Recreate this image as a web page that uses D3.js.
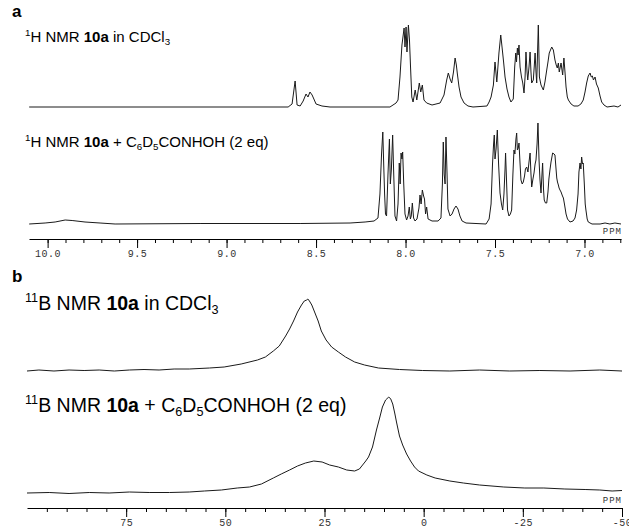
<!DOCTYPE html>
<html>
<head>
<meta charset="utf-8">
<script src="https://cdn.jsdelivr.net/npm/d3@7"></script>
<style>
  body { margin: 0; background: #fff; }
  svg { display: block; }
  .head { font-family: "Liberation Sans", Arial, sans-serif; fill: #000; }
  .tick text { font-family: "Liberation Mono", "DejaVu Sans Mono", monospace; font-size: 10px; fill: #333; letter-spacing: 0.5px; }
  .unit { font-family: "Liberation Mono", monospace; font-size: 9px; fill: #333; letter-spacing: 1px; }
</style>
</head>
<body>
<svg id="chart" width="629" height="528"></svg>
<script>
/* ---------- data: [ppm, relative intensity] ---------- */
const h1Free = [
  [10.103, 0], [8.656, 0], [8.634, 3], [8.617, 26], [8.606, 2], [8.589, 1], [8.572, 6],
  [8.556, 13], [8.545, 10], [8.534, 15], [8.522, 12], [8.500, 3], [8.467, 1], [8.422, 0],
  [8.087, 0], [8.053, 4], [8.042, 7], [8.031, 30], [8.020, 62], [8.008, 79], [8.003, 60],
  [7.997, 80], [7.992, 55], [7.984, 82], [7.978, 67], [7.972, 40], [7.965, 10], [7.958, 5],
  [7.946, 17], [7.937, 7], [7.923, 24], [7.915, 15], [7.906, 22], [7.897, 7], [7.882, 4],
  [7.852, 2], [7.807, 4], [7.785, 12], [7.770, 27], [7.761, 34], [7.751, 28], [7.742, 24],
  [7.732, 35], [7.723, 49], [7.716, 42], [7.711, 34], [7.701, 20], [7.690, 10], [7.673, 4],
  [7.651, 1], [7.623, 0], [7.545, 1], [7.533, 5], [7.522, 10], [7.509, 22], [7.504, 35],
  [7.500, 45], [7.490, 25], [7.478, 54], [7.468, 72], [7.459, 57], [7.452, 45], [7.444, 30],
  [7.433, 18], [7.422, 10], [7.411, 5], [7.398, 8], [7.390, 40], [7.384, 54], [7.380, 45],
  [7.375, 59], [7.371, 52], [7.366, 62], [7.360, 40], [7.352, 30], [7.345, 24], [7.338, 14],
  [7.332, 30], [7.327, 55], [7.321, 35], [7.317, 27], [7.310, 40], [7.304, 55], [7.299, 35],
  [7.295, 24], [7.286, 27], [7.281, 40], [7.276, 54], [7.271, 35], [7.267, 24], [7.263, 50],
  [7.258, 82], [7.252, 30], [7.243, 22], [7.230, 17], [7.221, 25], [7.211, 37], [7.204, 45],
  [7.197, 54], [7.183, 60], [7.174, 57], [7.165, 47], [7.158, 42], [7.152, 39], [7.146, 44],
  [7.141, 35], [7.131, 44], [7.122, 32], [7.115, 49], [7.109, 35], [7.103, 20], [7.096, 10],
  [7.090, 7], [7.075, 3], [7.059, 1], [7.036, 1], [7.020, 3], [7.007, 7], [6.997, 15],
  [6.988, 24], [6.979, 31], [6.969, 34], [6.962, 30], [6.956, 31], [6.950, 27], [6.941, 30],
  [6.933, 23], [6.923, 19], [6.913, 11], [6.904, 5], [6.891, 2], [6.874, 0], [6.835, 1],
  [6.813, 0], [6.796, 2]
];

const h1Complex = [
  [10.103, 0], [10.014, 1], [9.958, 2], [9.902, 4], [9.863, 3.5], [9.791, 2], [9.707, 1],
  [9.623, 0], [9.148, 0.5], [8.589, 0.5], [8.310, 1], [8.226, 2], [8.176, 3], [8.154, 6],
  [8.143, 30], [8.134, 70], [8.127, 92], [8.122, 60], [8.117, 30], [8.112, 10], [8.106, 8],
  [8.098, 50], [8.090, 85], [8.085, 40], [8.079, 55], [8.072, 89], [8.066, 50], [8.059, 8],
  [8.050, 3], [8.042, 20], [8.035, 61], [8.030, 40], [8.025, 71], [8.020, 65], [8.016, 72],
  [8.010, 40], [8.003, 10], [7.994, 4], [7.986, 8], [7.979, 17], [7.973, 5], [7.968, 8],
  [7.962, 21], [7.955, 6], [7.947, 3], [7.936, 5], [7.925, 16], [7.919, 29], [7.913, 20],
  [7.906, 34], [7.899, 28], [7.894, 25], [7.888, 10], [7.882, 17], [7.874, 5], [7.852, 3],
  [7.818, 3], [7.802, 6], [7.794, 40], [7.789, 82], [7.784, 50], [7.779, 40], [7.774, 87],
  [7.768, 50], [7.763, 15], [7.751, 8], [7.740, 10], [7.729, 15], [7.718, 18], [7.707, 15],
  [7.696, 8], [7.684, 3], [7.662, 1], [7.550, 0], [7.533, 5], [7.522, 20], [7.514, 60],
  [7.508, 80], [7.504, 89], [7.500, 65], [7.494, 75], [7.487, 94], [7.480, 60], [7.472, 31],
  [7.464, 20], [7.457, 14], [7.450, 30], [7.444, 55], [7.441, 71], [7.435, 40], [7.430, 14],
  [7.422, 8], [7.414, 10], [7.407, 14], [7.400, 50], [7.394, 74], [7.389, 70], [7.383, 85],
  [7.379, 91], [7.375, 74], [7.370, 76], [7.366, 81], [7.360, 60], [7.355, 44], [7.348, 40],
  [7.342, 42], [7.335, 48], [7.330, 55], [7.323, 57], [7.316, 52], [7.310, 62], [7.304, 71],
  [7.299, 50], [7.295, 37], [7.288, 45], [7.282, 51], [7.276, 60], [7.271, 64], [7.265, 80],
  [7.260, 101], [7.254, 64], [7.249, 45], [7.243, 31], [7.239, 45], [7.234, 61], [7.229, 35],
  [7.225, 24], [7.218, 21], [7.211, 21], [7.204, 32], [7.199, 45], [7.193, 54], [7.187, 62],
  [7.178, 71], [7.170, 70], [7.165, 69], [7.159, 55], [7.155, 46], [7.151, 42], [7.146, 39],
  [7.142, 36], [7.137, 34], [7.131, 32], [7.127, 30], [7.123, 28], [7.118, 26], [7.112, 20],
  [7.103, 10], [7.095, 5], [7.081, 2], [7.064, 3], [7.053, 6], [7.044, 14], [7.036, 30],
  [7.031, 52], [7.025, 61], [7.020, 55], [7.016, 67], [7.011, 60], [7.007, 61], [7.001, 40],
  [6.996, 20], [6.992, 14], [6.985, 5], [6.979, 2], [6.958, 0], [6.913, 0], [6.885, 1],
  [6.858, 0], [6.830, 1], [6.796, 0]
];

const b11Free = [
  [100, 0], [97, 1], [93.2, 0], [89.4, 1], [85.6, 0.5], [81.8, 1], [78, 0], [74.2, 1],
  [70.5, 1.5], [66.7, 1], [62.9, 2], [59.1, 2], [54, 3], [50.3, 4], [46, 7], [41.9, 11],
  [39.9, 14], [37.9, 20], [36.4, 25], [34.8, 35], [33.8, 42], [32.8, 50], [31.8, 59],
  [30.8, 66], [30.1, 70], [29.5, 71], [29.2, 72], [28.8, 70], [28.2, 66], [27.5, 59],
  [26.6, 50], [25.8, 40], [24.6, 31], [23.2, 24], [21.5, 19], [19.7, 14], [17.4, 9],
  [14.9, 6], [11.4, 3], [6.1, 1.5], [0.25, 0.5], [-6.6, 0], [-14.1, 1], [-21.7, 0],
  [-29.3, 0.5], [-36.9, 0], [-44.4, 1], [-50, 0]
];

const b11Complex = [
  [100, 0], [94.4, 0.5], [89.4, -0.5], [84.3, 0.5], [79.3, 0], [74.2, 1], [69.2, 0.5],
  [64.1, 0.5], [59.1, 1], [55.3, 2], [51, 3], [47, 5], [43.9, 6], [40.9, 9], [37.9, 15],
  [35.9, 19], [33.8, 23], [31.8, 27], [29.8, 30], [27.7, 32], [25.6, 31], [23.7, 28],
  [21.5, 26], [19.4, 23], [17.4, 22], [16.2, 24], [15.4, 28], [14.6, 32], [13.9, 36],
  [12.9, 46], [11.9, 63], [11.1, 75], [10.4, 86], [9.6, 93], [8.8, 96], [8.3, 94],
  [7.8, 89], [7.3, 80], [6.8, 70], [6.1, 57], [5.3, 48], [4.3, 39], [3.3, 32], [2.3, 26],
  [1.3, 22], [-0.8, 18], [-2.9, 15], [-6.6, 12], [-10, 10], [-14.1, 8], [-20.2, 6],
  [-25.5, 5], [-30.3, 5], [-35.6, 4], [-40.7, 3.5], [-44.4, 3], [-47.5, 2], [-50, 2.5]
];

/* axis ticks */
const hTicks = [10.0, 9.5, 9.0, 8.5, 8.0, 7.5, 7.0];
const hMinor = [10.0, 9.9, 9.8, 9.7, 9.6, 9.5, 9.4, 9.3, 9.2, 9.1, 9.0, 8.9, 8.8, 8.7, 8.6,
  8.5, 8.4, 8.3, 8.2, 8.1, 8.0, 7.9, 7.8, 7.7, 7.6, 7.5, 7.4, 7.3, 7.2, 7.1, 7.0, 6.9, 6.8];
const bTicks = [75, 50, 25, 0, -25, -50];
const bMinor = [95, 90, 85, 80, 75, 70, 65, 60, 55, 50, 45, 40, 35, 30, 25, 20, 15, 10, 5,
  0, -5, -10, -15, -20, -25, -30, -35, -40, -45, -50];

/* ---------- layout ---------- */
const svg = d3.select("#chart");

const xH = d3.scaleLinear().domain([10.104, 6.796]).range([29, 621]);
const xB = d3.scaleLinear().domain([100, -50]).range([27, 622]);

// baseline y for each trace, 1 intensity unit = 1px
const yFor = (base) => d3.scaleLinear().domain([0, 100]).range([base, base - 100]);

function trace(data, x, y) {
  const line = d3.line().x((d) => x(d[0])).y((d) => y(d[1]));
  svg.append("path")
    .datum(data)
    .attr("d", line)
    .attr("fill", "none")
    .attr("stroke", "#1a1a1a")
    .attr("stroke-width", 1)
    .attr("stroke-linejoin", "round");
}

trace(h1Free, xH, yFor(107));
trace(h1Complex, xH, yFor(224));
trace(b11Free, xB, yFor(371));
trace(b11Complex, xB, yFor(493));

function axis(x, ticks, minor, fmt, y) {
  svg.append("g")
    .attr("transform", `translate(0,${y})`)
    .call(d3.axisBottom(x).tickValues(minor).tickSize(4).tickSizeOuter(0).tickFormat(""))
    .call((g) => g.select(".domain").attr("stroke", "#000"));
  svg.append("g")
    .attr("transform", `translate(0,${y})`)
    .call(d3.axisBottom(x).tickValues(ticks).tickSize(9).tickSizeOuter(0).tickPadding(2).tickFormat(fmt))
    .call((g) => g.select(".domain").remove());
  svg.append("text")
    .attr("class", "unit")
    .attr("x", 622)
    .attr("y", y - 5)
    .attr("text-anchor", "end")
    .text("PPM");
}

axis(xH, hTicks, hMinor, d3.format(".1f"), 239);
axis(xB, bTicks, bMinor, (d) => String(d), 508);

/* ---------- headings ---------- */
function heading(x, y, size, iso, nucleus, solventParts) {
  const t = svg.append("text").attr("class", "head").attr("x", x).attr("y", y).style("font-size", size + "px");
  t.append("tspan").attr("font-size", size * 0.65).attr("baseline-shift", size * 0.4).text(iso);
  t.append("tspan").text(nucleus + " NMR ");
  t.append("tspan").attr("font-weight", "bold").text("10a");
  solventParts.forEach((p) => {
    const s = t.append("tspan").text(p[0]);
    if (p[1] === "sub") s.attr("font-size", size * 0.65).attr("baseline-shift", -size * 0.2);
  });
}

svg.append("text").attr("class", "head").attr("x", 12).attr("y", 17)
  .style("font-size", "17px").style("font-weight", "bold").text("a");
svg.append("text").attr("class", "head").attr("x", 12).attr("y", 282)
  .style("font-size", "17px").style("font-weight", "bold").text("b");

const inCDCl3 = [[" in CDCl"], ["3", "sub"]];
const plusHydrox = [[" + C"], ["6", "sub"], ["D"], ["5", "sub"], ["CONHOH (2 eq)"]];

heading(25, 42, 15, "1", "H", inCDCl3);
heading(25, 147, 15, "1", "H", plusHydrox);
heading(25, 310, 19.5, "11", "B", inCDCl3);
heading(25, 412, 19.5, "11", "B", plusHydrox);
</script>
</body>
</html>
